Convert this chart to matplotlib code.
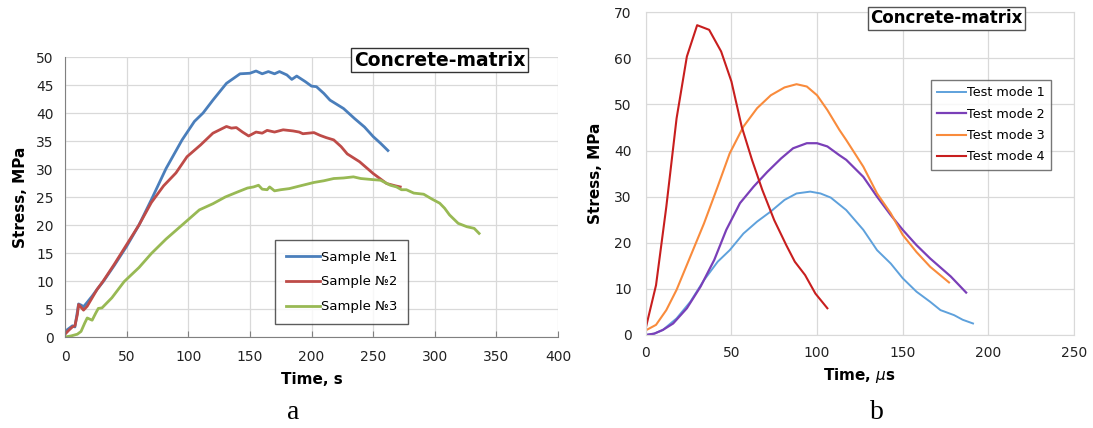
import matplotlib
matplotlib.use("Agg")
import matplotlib.pyplot as plt

# ---- data, panel a (Time, s / Stress, MPa)
t_s1 = [0, 3, 6, 8, 10, 11, 13, 15, 18, 22, 26, 31, 40, 50, 60, 70, 82, 95, 105, 112, 120,
        131, 142, 150, 155, 160, 165, 170, 174, 180, 184, 188, 195, 200, 204, 210, 215,
        226, 235, 243, 250, 256, 262]
s1 = [1.0, 1.5, 2.0, 1.8, 4.5, 5.9, 5.7, 5.4, 6.2, 7.3, 8.5, 9.9, 12.8, 16.2, 20.0, 24.5,
      30.1, 35.2, 38.5, 40.0, 42.3, 45.3, 47.0, 47.1, 47.5, 47.0, 47.4, 47.0, 47.4, 46.8,
      46.0, 46.6, 45.6, 44.8, 44.7, 43.5, 42.3, 40.8, 39.0, 37.5, 35.8, 34.6, 33.3]

t_s2 = [0, 3, 6, 8, 10, 11, 13, 15, 18, 22, 26, 31, 40, 50, 60, 70, 80, 90, 99, 110, 120,
        131, 135, 139, 144, 149, 155, 160, 164, 170, 177, 185, 190, 193, 202, 207, 212,
        218, 224, 229, 239, 250, 261, 268, 272]
s2 = [0.5, 1.2, 1.8, 2.0, 4.0, 5.8, 5.3, 4.8, 5.5, 7.0, 8.5, 10.0, 13.0, 16.5, 20.0, 24.0,
      27.0, 29.3, 32.2, 34.3, 36.4, 37.6, 37.3, 37.4, 36.6, 35.9, 36.6, 36.4, 36.9, 36.6,
      37.0, 36.8, 36.6, 36.3, 36.5, 36.0, 35.6, 35.2, 34.0, 32.7, 31.3, 29.2, 27.4, 27.0,
      26.8]

t_s3 = [0, 5, 10, 13, 16, 18, 20, 22, 25, 27, 30, 38, 48, 60, 70, 82, 95, 109, 120, 130,
        140, 148, 153, 157, 160, 164, 166, 170, 175, 182, 191, 202, 210, 218, 226, 234,
        240, 250, 256, 264, 269, 273, 277, 283, 291, 298, 304, 308, 312, 319, 326, 332, 336]
s3 = [0.0, 0.2, 0.5, 1.0, 2.5, 3.4, 3.2, 3.0, 4.3, 5.1, 5.2, 7.0, 9.9, 12.4, 14.9, 17.5,
      20.0, 22.7, 23.8, 25.0, 25.9, 26.6, 26.8, 27.1, 26.4, 26.3, 26.8, 26.1, 26.3, 26.5,
      27.0, 27.6, 27.9, 28.3, 28.4, 28.6, 28.3, 28.1, 28.0, 27.1, 26.8, 26.3, 26.3, 25.7,
      25.5, 24.6, 23.9, 23.0, 21.8, 20.3, 19.7, 19.4, 18.5]

# ---- data, panel b (Time, us / Stress, MPa)
t_m1 = [0, 5, 10, 18, 26, 34, 42, 49, 57, 65, 73, 81, 88, 96, 102, 108, 113, 117, 127,
        135, 143, 150, 158, 166, 172, 180, 185, 191]
m1 = [0.0, 0.3, 1.1, 3.6, 7.2, 11.9, 15.9, 18.4, 22.0, 24.6, 26.8, 29.3, 30.7, 31.1, 30.7,
      29.8, 28.3, 27.1, 22.8, 18.4, 15.5, 12.3, 9.4, 7.2, 5.4, 4.3, 3.3, 2.5]

t_m2 = [0, 5, 10, 16, 24, 32, 40, 47, 55, 63, 71, 79, 86, 94, 100, 106, 113, 117, 127,
        135, 143, 150, 158, 166, 178, 187]
m2 = [0.0, 0.3, 1.1, 2.5, 5.8, 10.5, 16.3, 22.8, 28.6, 32.2, 35.4, 38.3, 40.5, 41.6,
      41.6, 40.9, 39.0, 38.0, 34.3, 30.0, 26.0, 22.8, 19.5, 16.6, 12.7, 9.2]

t_m3 = [0, 6, 12, 18, 26, 34, 42, 49, 57, 65, 73, 81, 88, 94, 100, 106, 113, 117, 127,
        135, 143, 150, 158, 166, 177]
m3 = [1.0, 2.2, 5.4, 9.8, 17.0, 24.2, 32.2, 39.4, 45.2, 49.2, 52.0, 53.7, 54.4, 53.9,
      52.0, 48.8, 44.5, 42.3, 36.5, 30.7, 26.4, 21.7, 18.0, 14.8, 11.4]

t_m4 = [0, 6, 12, 18, 24, 30, 37, 44, 50, 56, 62, 68, 75, 82, 87, 93, 99, 106]
m4 = [1.5, 10.8, 27.8, 47.0, 60.4, 67.2, 66.2, 61.5, 55.0, 45.2, 38.0, 31.5, 24.9, 19.5,
      15.9, 13.0, 9.0, 5.8]

fig = plt.figure(figsize=(10.93, 4.28), dpi=100)
grid_c = '#d9d9d9'

# panel a
ax1 = fig.add_axes([0.0595, 0.2126, 0.451, 0.6542])
ax1.plot(t_s1, s1, color='#4a7ebb', lw=2, label='Sample №1')
ax1.plot(t_s2, s2, color='#be4b48', lw=2, label='Sample №2')
ax1.plot(t_s3, s3, color='#98b954', lw=2, label='Sample №3')
ax1.set_xlim(0, 400)
ax1.set_ylim(0, 50)
ax1.set_xticks(range(0, 401, 50))
ax1.set_yticks(range(0, 51, 5))
ax1.grid(True, color=grid_c, lw=0.9)
ax1.set_axisbelow(True)
for sp in ['top', 'right']:
    ax1.spines[sp].set_visible(False)
for sp in ['left', 'bottom']:
    ax1.spines[sp].set_color('#808080')
ax1.tick_params(axis='x', direction='in', length=4, color='#808080', labelsize=10,
                labelcolor='#222222', pad=9)
ax1.tick_params(axis='y', length=0, labelsize=10, labelcolor='#222222', pad=8)
ax1.set_xlabel('Time, s', fontsize=11, fontweight='bold', labelpad=6)
ax1.set_ylabel('Stress, MPa', fontsize=11, fontweight='bold', labelpad=6)
leg1 = ax1.legend(loc='upper left', bbox_to_anchor=(0.2516, 0.4393),
                  bbox_transform=fig.transFigure, fontsize=9.5, frameon=True,
                  fancybox=False, edgecolor='#333333', handlelength=2.6,
                  handletextpad=0.1, labelspacing=0.9, borderpad=0.8,
                  borderaxespad=0)
leg1.get_frame().set_linewidth(1.0)
fig.text(0.4021, 0.8598, 'Concrete-matrix', fontsize=13.5, fontweight='bold',
         ha='center', va='center',
         bbox=dict(boxstyle='square,pad=0.15', fc='white', ec='#333333', lw=1))
fig.text(0.268, 0.022, 'a', family='Liberation Serif', fontsize=20, ha='center')

# panel b
ax2 = fig.add_axes([0.5908, 0.2173, 0.3919, 0.754])
ax2.plot(t_m1, m1, color='#5ea1dc', lw=1.4, label='Test mode 1')
ax2.plot(t_m2, m2, color='#7a3fb8', lw=1.6, label='Test mode 2')
ax2.plot(t_m3, m3, color='#f98b3c', lw=1.5, label='Test mode 3')
ax2.plot(t_m4, m4, color='#c81e1e', lw=1.5, label='Test mode 4')
ax2.set_xlim(0, 250)
ax2.set_ylim(0, 70)
ax2.set_xticks(range(0, 251, 50))
ax2.set_yticks(range(0, 71, 10))
ax2.grid(True, color=grid_c, lw=0.9)
ax2.set_axisbelow(True)
for sp in ax2.spines.values():
    sp.set_color(grid_c)
ax2.tick_params(length=0, labelsize=10, labelcolor='#222222')
ax2.tick_params(axis='x', pad=8)
ax2.tick_params(axis='y', pad=10)
ax2.set_xlabel('Time, $\\mu$s', fontsize=11, fontweight='bold', labelpad=4)
ax2.set_ylabel('Stress, MPa', fontsize=11, fontweight='bold', labelpad=8)
leg2 = ax2.legend(loc='upper left', bbox_to_anchor=(0.8518, 0.8131),
                  bbox_transform=fig.transFigure, fontsize=9.2, frameon=True,
                  fancybox=False, edgecolor='#555555', handlelength=2.2,
                  handletextpad=0.1, labelspacing=0.65, borderpad=0.5,
                  borderaxespad=0)
fig.text(0.866, 0.9568, 'Concrete-matrix', fontsize=12, fontweight='bold',
         ha='center', va='center',
         bbox=dict(boxstyle='square,pad=0.15', fc='white', ec='#555555', lw=1))
fig.text(0.802, 0.022, 'b', family='Liberation Serif', fontsize=20, ha='center')

fig.savefig('out.png', dpi=100)
